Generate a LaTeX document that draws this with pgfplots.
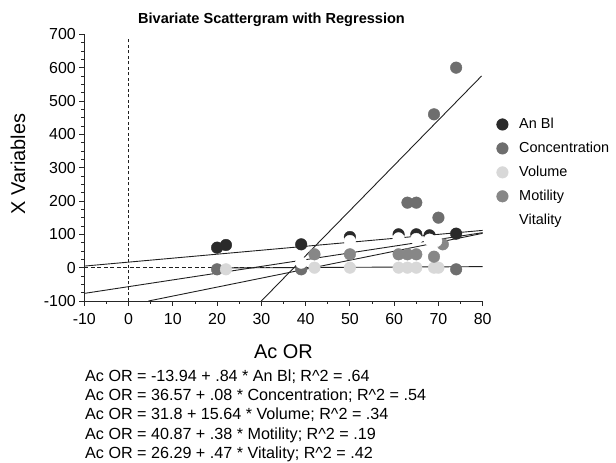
\documentclass[border=0pt]{standalone}
\usepackage{fontspec}
\setmainfont{Liberation Sans}
\usepackage{pgfplots}
\pgfplotsset{compat=1.18}

\definecolor{cAn}{HTML}{2A2A2A}
\definecolor{cCon}{HTML}{6E6E6E}
\definecolor{cVol}{HTML}{D8D8D8}
\definecolor{cMot}{HTML}{878787}
\definecolor{cLine}{HTML}{202020}

\begin{document}
\begin{tikzpicture}
\path[use as bounding box] (0bp,0bp) rectangle (616bp,463bp);
\begin{axis}[
  at={(84.3bp,162bp)}, anchor=south west,
  scale only axis, width=398.4bp, height=266.7bp,
  xmin=-10, xmax=80, ymin=-100, ymax=700,
  axis lines*=left,
  axis line style={line width=1pt, black!85},
  xtick={-10,0,...,80}, minor x tick num=1,
  ytick={-100,0,...,700}, minor y tick num=3,
  tick align=outside,
  major tick length=5bp, minor tick length=3bp,
  tick style={black!85, line width=0.9pt},
  ticklabel style={font=\fontsize{16}{18}\selectfont},
  xticklabel style={yshift=-4bp},
  /pgf/number format/assume math mode=true,
  legend style={at={(1.027,0.70)}, anchor=north west, draw=none, fill=none,
    font=\fontsize{14.5}{17}\selectfont, row sep=8bp, column sep=9bp},
  legend cell align=left,
]
% data points
\addplot[only marks, mark=*, mark size=5.8bp, color=cAn] coordinates {
 (20,60) (22,68) (39,70) (50,92) (61,100) (65,100) (68,97) (74,102)};
\addlegendentry{An Bl}
\addplot[only marks, mark=*, mark size=5.8bp, color=cCon] coordinates {
 (74,600) (69,460) (63,195) (65,195) (70,150) (20,-5) (39,-5) (74,-5)};
\addlegendentry{Concentration}
\addplot[only marks, mark=*, mark size=5.8bp, color=cVol] coordinates {
 (22,-5) (42,0) (50,0) (61,0) (63,0) (65,0) (69,0) (70,0)};
\addlegendentry{Volume}
\addplot[only marks, mark=*, mark size=5.8bp, color=cMot] coordinates {
 (42,40) (50,40) (61,40) (63,40) (65,40) (69,33) (71,70)};
\addlegendentry{Motility}
% reference lines
\addplot[forget plot, cLine, line width=0.9pt, dash pattern=on 3bp off 2.5bp] coordinates {(0,-100) (0,690)};
\addplot[forget plot, cLine, line width=1.1pt, dash pattern=on 4bp off 2.5bp] coordinates {(-10,0) (40,0)};
% regression lines
\addplot[forget plot, cLine, line width=0.9pt] coordinates {(-10,4.7) (80,111.8)};
\addplot[forget plot, cLine, line width=0.9pt] coordinates {(30,-100) (79.75,575)};
\addplot[forget plot, cLine, line width=0.9pt] coordinates {(20,-1) (80,3.1)};
\addplot[forget plot, cLine, line width=0.9pt] coordinates {(4.5,-100) (80,103)};
\addplot[forget plot, cLine, line width=0.9pt] coordinates {(-10,-77.2) (80,105)};
% vitality (white)
\addplot[only marks, mark=*, mark size=5.8bp, color=white] coordinates {
 (39,15) (50,80) (61,88) (65,86) (68,84) (69.5,80)};
\addlegendentry{Vitality}
\end{axis}
\node[font=\bfseries\fontsize{14.6}{17}\selectfont, anchor=base] at (271.5bp,439bp) {Bivariate Scattergram with Regression};
\node[font=\fontsize{20}{23}\selectfont, anchor=base] at (283.5bp,104.7bp) {Ac OR};
\node[font=\fontsize{20}{23}\selectfont, anchor=base, rotate=90] at (25bp,299bp) {X Variables};
\begin{scope}[every node/.style={font=\fontsize{16.2}{18}\selectfont, anchor=base west, inner sep=0pt}]
\node at (85bp,81.3bp) {Ac OR = -13.94 + .84 * An Bl; R\^{}2 = .64};
\node at (85bp,62.2bp) {Ac OR = 36.57 + .08 * Concentration; R\^{}2 = .54};
\node at (85bp,43.0bp) {Ac OR = 31.8 + 15.64 * Volume; R\^{}2 = .34};
\node at (85bp,23.9bp) {Ac OR = 40.87 + .38 * Motility; R\^{}2 = .19};
\node at (85bp,4.7bp) {Ac OR = 26.29 + .47 * Vitality; R\^{}2 = .42};
\end{scope}
\end{tikzpicture}
\end{document}
